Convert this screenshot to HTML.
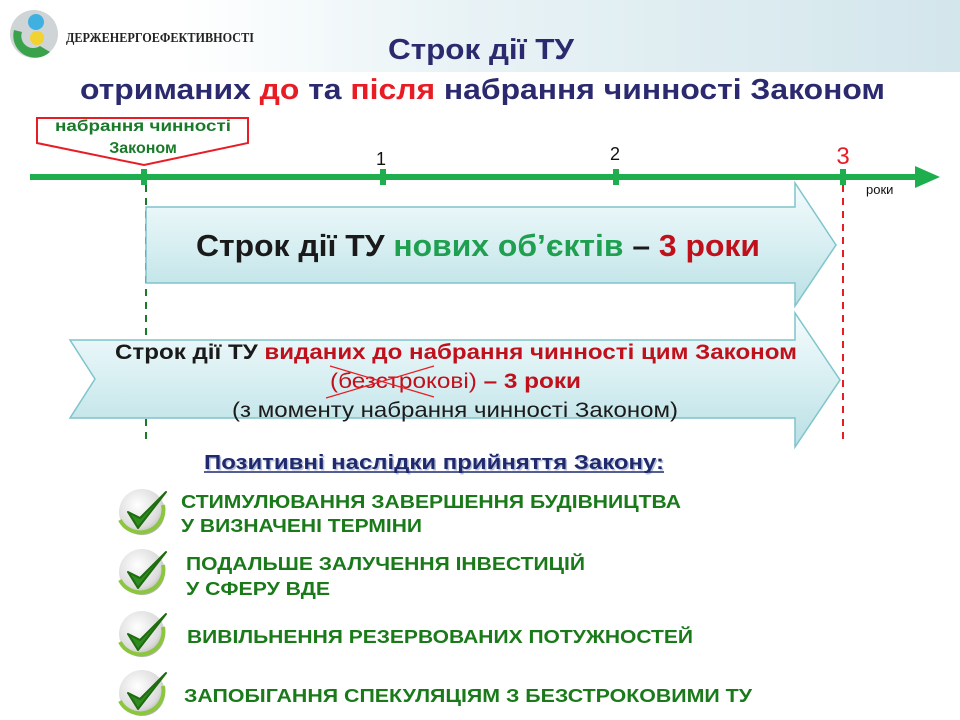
<!DOCTYPE html>
<html><head><meta charset="utf-8"><style>
html,body{margin:0;padding:0;background:#fff;width:960px;height:720px;overflow:hidden}
svg{display:block;font-family:"Liberation Sans",sans-serif}
</style></head><body>
<svg width="960" height="720" viewBox="0 0 960 720" xmlns="http://www.w3.org/2000/svg">
<defs>
<linearGradient id="ban" x1="0" x2="1" y1="0" y2="0">
<stop offset="0" stop-color="#fff"/><stop offset="0.35" stop-color="#e9f3f6"/><stop offset="1" stop-color="#d3e6ec"/></linearGradient>
<linearGradient id="arr" x1="0" x2="0" y1="0" y2="1">
<stop offset="0" stop-color="#f4fbfc"/><stop offset="0.5" stop-color="#d8eff2"/><stop offset="1" stop-color="#b9e0e5"/></linearGradient>
<radialGradient id="chk" cx="0.4" cy="0.35" r="0.7">
<stop offset="0" stop-color="#ffffff"/><stop offset="0.7" stop-color="#dcdcdc"/><stop offset="1" stop-color="#a8a8a8"/></radialGradient>
</defs>
<rect x="180" y="0" width="780" height="72" fill="url(#ban)"/>
<!-- logo -->
<circle cx="34" cy="34" r="24" fill="#cfd4d6"/>
<path d="M14 30 A22 22 0 0 0 50 52 L40 46 A12 12 0 0 1 22 32 Z" fill="#3aa24a"/>
<circle cx="36" cy="22" r="8" fill="#3fb0e0"/>
<circle cx="37" cy="38" r="7" fill="#f2d230"/>
<text x="66" y="42" font-family="Liberation Serif,serif" font-weight="bold" font-size="14" fill="#222" textLength="188" lengthAdjust="spacingAndGlyphs">ДЕРЖЕНЕРГОЕФЕКТИВНОСТІ</text>
<!-- title -->
<text x="481" y="59" text-anchor="middle" font-weight="bold" font-size="29" fill="#2b2a6e" textLength="186" lengthAdjust="spacingAndGlyphs">Строк дії ТУ</text>
<text x="80" y="99" font-weight="bold" font-size="29" fill="#2b2a6e" textLength="805" lengthAdjust="spacingAndGlyphs">отриманих <tspan fill="#e81c24">до</tspan> та <tspan fill="#e81c24">після</tspan> набрання чинності Законом</text>
<!-- timeline -->
<line x1="30" y1="177" x2="920" y2="177" stroke="#1fae4e" stroke-width="6"/>
<polygon points="915,166 940,177 915,188" fill="#1fae4e"/>
<g fill="#1fae4e"><rect x="141" y="169" width="6" height="16"/><rect x="380" y="169" width="6" height="16"/><rect x="613" y="169" width="6" height="16"/><rect x="840" y="169" width="6" height="16"/></g>
<text x="381" y="165" text-anchor="middle" font-size="18" fill="#111">1</text>
<text x="615" y="160" text-anchor="middle" font-size="18" fill="#111">2</text>
<text x="843" y="164" text-anchor="middle" font-size="24" fill="#e81c24">3</text>
<text x="866" y="194" font-size="13" fill="#111">роки</text>
<!-- callout -->
<polygon points="37,118 248,118 248,143 144,165 37,143" fill="#fff" stroke="#e81c24" stroke-width="2"/>
<text x="143" y="131" text-anchor="middle" font-weight="bold" font-size="16" fill="#1a7a2a" textLength="176" lengthAdjust="spacingAndGlyphs">набрання чинності</text>
<text x="143" y="153" text-anchor="middle" font-weight="bold" font-size="16" fill="#1a7a2a">Законом</text>
<!-- dashed -->
<line x1="146" y1="185" x2="146" y2="445" stroke="#1a7a2a" stroke-width="2" stroke-dasharray="7,6"/>
<line x1="843" y1="185" x2="843" y2="445" stroke="#e81c24" stroke-width="2" stroke-dasharray="7,6"/>
<!-- arrow 1 -->
<polygon points="146,207 795,207 795,183 836,245 795,306 795,283 146,283" fill="url(#arr)" stroke="#7fc4cc" stroke-width="1.5"/>
<text x="196" y="256" font-weight="bold" font-size="31" fill="#1a1a1a" textLength="564" lengthAdjust="spacingAndGlyphs">Строк дії ТУ <tspan fill="#1fa050">нових об’єктів</tspan> – <tspan fill="#c0101c">3 роки</tspan></text>
<!-- arrow 2 -->
<polygon points="70,340 795,340 795,313 840,380 795,447 795,418 70,418 95,379" fill="url(#arr)" stroke="#7fc4cc" stroke-width="1.5"/>
<text x="115" y="359" font-weight="bold" font-size="21" fill="#1a1a1a" textLength="682" lengthAdjust="spacingAndGlyphs">Строк дії ТУ <tspan fill="#c0101c">виданих до набрання чинності цим Законом</tspan></text>
<text x="330" y="388" font-size="21" fill="#c0101c" textLength="251" lengthAdjust="spacingAndGlyphs">(безстрокові) <tspan font-weight="bold">–  3 роки</tspan></text>
<line x1="326" y1="398" x2="434" y2="366" stroke="#e81c24" stroke-width="1.2"/>
<line x1="330" y1="366" x2="434" y2="397" stroke="#e81c24" stroke-width="1.2"/>
<text x="232" y="417" font-size="21" fill="#1a1a1a" textLength="446" lengthAdjust="spacingAndGlyphs">(з моменту набрання чинності Законом)</text>
<!-- heading -->
<text x="204" y="469" font-weight="bold" font-size="20" fill="#b8c0d8" textLength="460" lengthAdjust="spacingAndGlyphs" transform="translate(1.5,1.5)">Позитивні наслідки прийняття Закону:</text>
<text x="204" y="469" font-weight="bold" font-size="20" fill="#1f2a6e" textLength="460" lengthAdjust="spacingAndGlyphs">Позитивні наслідки прийняття Закону:</text>
<line x1="204" y1="472" x2="664" y2="472" stroke="#1f2a6e" stroke-width="1.5"/>
<!-- checks -->
<g id="c1">
<circle cx="142" cy="512" r="23" fill="url(#chk)"/>
<path d="M120 520 A23 23 0 0 0 163 505" fill="none" stroke="#8cc63f" stroke-width="4"/>
<path d="M128 512 L138 528 L166 492 L140 518 Z" fill="#2e8b1e" stroke="#1e6b10" stroke-width="2" stroke-linejoin="round"/>
</g>
<use href="#c1" transform="translate(0,60)"/>
<use href="#c1" transform="translate(0,122)"/>
<use href="#c1" transform="translate(0,181)"/>
<g font-weight="bold" font-size="18" fill="#1a7a1a">
<text x="181" y="508" textLength="500" lengthAdjust="spacingAndGlyphs">СТИМУЛЮВАННЯ  ЗАВЕРШЕННЯ  БУДІВНИЦТВА</text>
<text x="181" y="532" textLength="241" lengthAdjust="spacingAndGlyphs">У ВИЗНАЧЕНІ  ТЕРМІНИ</text>
<text x="186" y="570" textLength="399" lengthAdjust="spacingAndGlyphs">ПОДАЛЬШЕ ЗАЛУЧЕННЯ  ІНВЕСТИЦІЙ</text>
<text x="186" y="595" textLength="144" lengthAdjust="spacingAndGlyphs">У СФЕРУ ВДЕ</text>
<text x="187" y="643" textLength="506" lengthAdjust="spacingAndGlyphs">ВИВІЛЬНЕННЯ  РЕЗЕРВОВАНИХ  ПОТУЖНОСТЕЙ</text>
<text x="184" y="702" textLength="568" lengthAdjust="spacingAndGlyphs">ЗАПОБІГАННЯ  СПЕКУЛЯЦІЯМ  З БЕЗСТРОКОВИМИ  ТУ</text>
</g>
</svg>
</body></html>
